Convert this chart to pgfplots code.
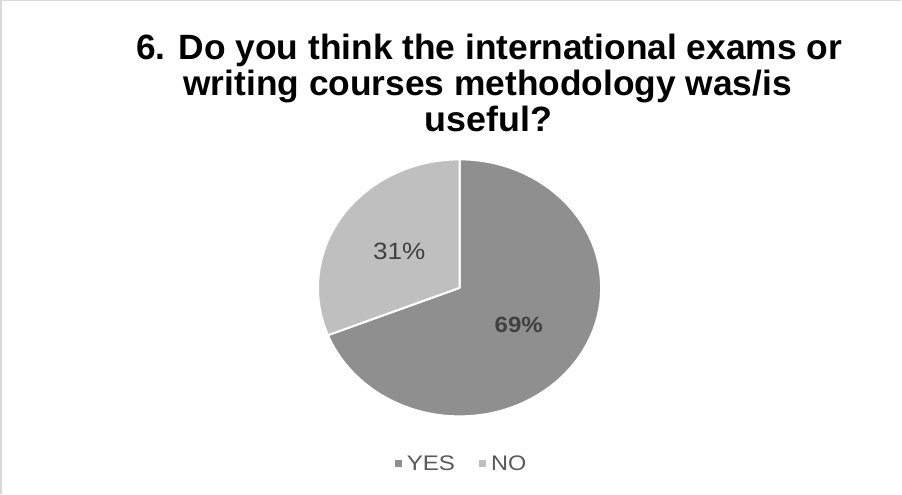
\documentclass[border=0pt]{standalone}
\usepackage{pgfplots}
\pgfplotsset{compat=1.18}
\usepackage{pgfplotstable}
\usepackage{graphicx}
\usepackage{fontspec}
\setmainfont{Liberation Sans}
\definecolor{yescol}{RGB}{143,143,143}
\definecolor{nocol}{RGB}{191,191,191}
\definecolor{lblcol}{RGB}{64,64,64}
\definecolor{legcol}{RGB}{89,89,89}
\definecolor{framecol}{RGB}{217,217,217}
\pgfplotstableread{
label value
YES 69
NO 31
}\piedata
\pgfplotstablegetelem{0}{value}\of\piedata
\pgfmathsetmacro\yesv{\pgfplotsretval}
\pgfplotstablegetelem{1}{value}\of\piedata
\pgfmathsetmacro\nov{\pgfplotsretval}
\pgfmathsetmacro\splitang{90-3.6*\yesv}
\pgfmathsetmacro\endang{\splitang-3.6*\nov}
\begin{document}
\begin{tikzpicture}
\begin{axis}[
  width=902pt, height=496pt, scale only axis,
  xmin=0, xmax=902, ymin=0, ymax=496,
  hide axis, clip=false,
  legend style={at={(axis cs:464,30)}, anchor=center, draw=none, fill=none,
    legend columns=-1, font=\fontsize{21}{24}\selectfont\color{legcol},
    /tikz/every odd column/.append style={column sep=3pt},
    /tikz/every even column/.append style={column sep=22pt},
    legend cell align=left},
  legend image code/.code={\fill[#1] (0pt,-3.5pt) rectangle (7pt,3.5pt);},
]
% frame
\draw[framecol, line width=1.5pt] (axis cs:5,0) -- (axis cs:5,491) -- (axis cs:902,491);
% slices
\fill[yescol, draw=white, line width=2pt, line join=round]
  (axis cs:462,205) -- ++(90:141pt and 128pt)
  arc[start angle=90, end angle=\splitang, x radius=141pt, y radius=128pt] -- cycle;
\fill[nocol, draw=white, line width=2pt, line join=round]
  (axis cs:462,205) -- ++(\splitang:141pt and 128pt)
  arc[start angle=\splitang, end angle=\endang, x radius=141pt, y radius=128pt] -- cycle;
% labels
\node[anchor=base, text=lblcol, inner sep=0pt] at (axis cs:402,233)
  {\resizebox{52pt}{\height}{\fontsize{23.5}{26}\selectfont 31\%}};
\node[anchor=base, text=lblcol, inner sep=0pt] at (axis cs:521,161)
  {\resizebox{48pt}{\height}{\fontsize{22}{26}\selectfont\bfseries 69\%}};
% title
\node[anchor=base, inner sep=0pt] at (axis cs:491.5,432)
  {\resizebox{703pt}{\height}{\fontsize{35}{40}\selectfont\bfseries 6. Do you think the international exams or}};
\node[anchor=base, inner sep=0pt] at (axis cs:490,397)
  {\resizebox{606pt}{\height}{\fontsize{35}{40}\selectfont\bfseries writing courses methodology was/is}};
\node[anchor=base, inner sep=0pt] at (axis cs:490.5,361)
  {\resizebox{127pt}{\height}{\fontsize{35}{40}\selectfont\bfseries useful?}};
% legend
\addlegendimage{draw=none, fill=yescol}
\addlegendentry{\resizebox{48pt}{\height}{YES}}
\addlegendimage{draw=none, fill=nocol}
\addlegendentry{\resizebox{35pt}{\height}{NO}}
\end{axis}
\end{tikzpicture}
\end{document}
